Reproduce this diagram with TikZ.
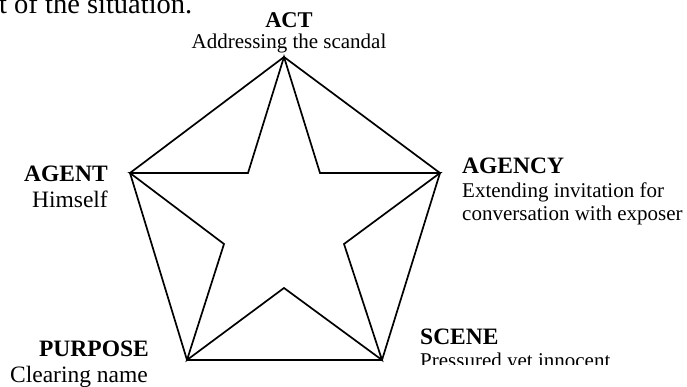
\documentclass[tikz,border=0pt]{standalone}
\usepackage{fontspec}
\setmainfont{Liberation Serif}
\begin{document}
\begin{tikzpicture}[x=1pt,y=1pt,
  edge/.style={line width=1.7pt, line join=miter, black},
  lbl/.style={inner sep=0pt, font=\fontsize{21}{24}\selectfont},
  lblbig/.style={inner sep=0pt, font=\fontsize{23.5}{26}\selectfont},
  head/.style={inner sep=0pt, font=\fontsize{23.5}{26}\selectfont\bfseries}]
\clip (0,0) rectangle (687,387);
% vertices of the pentagon
\coordinate (T)  at (284,330);
\coordinate (R)  at (440,214);
\coordinate (BR) at (382,27);
\coordinate (BL) at (187,27);
\coordinate (L)  at (130,214);
% inner points of the star
\coordinate (ITR) at (320,214);
\coordinate (IR)  at (344,143);
\coordinate (IB)  at (284,99);
\coordinate (IL)  at (224,143);
\coordinate (ITL) at (248,214);
% pentagon
\draw[edge] (T) -- (R) -- (BR) -- (BL) -- (L) -- cycle;
% star
\draw[edge] (T) -- (ITR) -- (R) -- (IR) -- (BR) -- (IB) -- (BL) -- (IL) -- (L) -- (ITL) -- cycle;
% cut-off line of text at the top
\node[inner sep=0pt, anchor=base west, font=\fontsize{28.5}{32}\selectfont] (intro) at (-1,373) {t of the situation.};
% labels
\node[inner sep=0pt, anchor=base, font=\fontsize{22.5}{26}\selectfont\bfseries] (act) at (289,359) {ACT};
\node[lbl, anchor=base] (actt) at (289,338.5) {Addressing the scandal};
\node[head, anchor=base east] (agent) at (108,205) {AGENT};
\node[lblbig, anchor=base east] (agentt) at (108,179) {Himself};
\node[head, anchor=base west] (agency) at (462,213) {AGENCY};
\node[lbl, anchor=base west] (agencyt1) at (462,189) {Extending invitation for};
\node[lbl, anchor=base west] (agencyt2) at (462,166) {conversation with exposer};
\node[head, anchor=base east] (purpose) at (149,30) {PURPOSE};
\node[lblbig, anchor=base east] (purposet) at (148,4) {Clearing name};
\node[head, anchor=base west] (scene) at (420,42) {SCENE};
\begin{scope}
\clip (400,22) rectangle (687,60);
\node[lbl, anchor=base west] (scenet) at (420,19) {Pressured yet innocent};
\end{scope}
\end{tikzpicture}
\end{document}
